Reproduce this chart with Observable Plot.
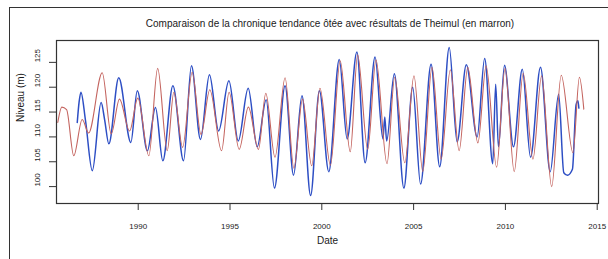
<!DOCTYPE html>
<html><head><meta charset="utf-8">
<script src="https://cdn.jsdelivr.net/npm/d3@7"></script>
<script src="https://cdn.jsdelivr.net/npm/@observablehq/plot@0.6"></script>
<style>
html,body{margin:0;padding:0;background:#fff;}
#wrap{position:relative;width:608px;height:259px;overflow:hidden;font-family:"Liberation Sans",Arial,sans-serif;}
#border{position:absolute;left:9px;top:7px;width:700px;height:400px;border:1.5px solid #333;box-sizing:border-box;}
#title{position:absolute;top:18px;left:56px;width:548px;text-align:center;font-size:10px;line-height:12px;color:#1a1a1a;}
#chart{position:absolute;left:0;top:0;}
</style></head><body>
<div id="wrap"><div id="border"></div><div id="title"></div><div id="chart"></div></div>
<script>
const titleText = "Comparaison de la chronique tendance ôtée avec résultats de Theimul (en marron)";
const xLabel = "Date";
const yLabel = "Niveau (m)";
const xTicks = [1990, 1995, 2000, 2005, 2010, 2015];
const yTicks = [100, 105, 110, 115, 120, 125];

const blueYears = [1986.68,1986.78,1986.88,1987.13,1987.5,1987.98,1988.17,1988.4,1988.94,1989.6,1989.95,1990.5,1990.94,1991.34,1991.89,1992.47,1992.9,1993.39,1993.88,1994.38,1994.94,1995.45,1995.99,1996.48,1996.97,1997.42,1998.0,1998.46,1998.92,1999.39,1999.87,2000.38,2000.95,2001.38,2001.91,2002.36,2002.9,2003.33,2003.43,2003.53,2003.95,2004.47,2004.95,2005.38,2005.95,2006.42,2006.94,2007.37,2007.87,2008.46,2008.87,2009.31,2009.47,2009.62,2009.95,2010.44,2010.92,2011.37,2011.91,2012.44,2012.9,2013.18,2013.38,2013.65,2013.85,2013.95,2014.0];
const blueLevels = [112.9,117.0,119.0,113.3,103.2,116.9,113.5,108.6,121.9,108.9,119.3,107.2,115.9,105.2,120.3,105.2,124.3,109.5,122.5,111.2,121.3,109.2,119.8,108.0,117.5,99.7,120.3,102.3,118.3,98.2,119.3,103.0,125.6,109.6,127.1,104.8,126.1,109.6,114.0,109.2,122.7,99.7,120.0,100.5,124.6,104.0,128.0,109.0,124.5,110.0,125.8,104.6,120.6,108.0,124.4,108.0,123.6,105.9,124.0,103.0,118.6,102.8,102.3,103.5,116.5,117.3,115.8];

// Theimul model (brown/red) series
const redYears = [1985.62,1985.84,1986.1,1986.49,1986.95,1987.3,1988.04,1988.53,1988.98,1989.53,1989.98,1990.58,1991.06,1991.58,1991.94,1992.42,1992.94,1993.42,1993.9,1994.54,1994.95,1995.5,1996.0,1996.55,1996.95,1997.45,1998.0,1998.48,1998.95,1999.45,1999.9,2000.47,2001.0,2001.55,2001.95,2002.5,2002.95,2003.55,2003.97,2004.52,2005.02,2005.5,2006.0,2006.5,2007.0,2007.48,2007.95,2008.5,2008.95,2009.52,2009.98,2010.48,2010.97,2011.5,2011.97,2012.52,2013.04,2013.68,2014.03,2014.27];
const redLevels = [112.9,116.0,115.5,106.2,113.5,110.8,122.9,110.6,117.6,111.2,117.8,106.2,123.8,107.2,119.0,107.9,123.0,110.5,119.5,107.2,119.0,107.5,116.0,107.5,118.8,105.9,121.9,103.7,117.6,104.2,119.8,104.3,125.3,107.0,126.5,107.5,125.5,104.6,122.0,104.8,122.3,103.0,124.0,105.5,123.5,107.2,124.0,108.8,124.3,103.9,123.8,103.0,122.8,105.5,122.3,100.0,122.4,106.8,122.0,115.6];

document.getElementById("title").textContent = titleText;

const blue = blueYears.map((t, i) => ({year: t, level: blueLevels[i]}));
const red = redYears.map((t, i) => ({year: t, level: redLevels[i]}));

const font = '"Liberation Sans", Arial, sans-serif';
const chart = Plot.plot({
  width: 608, height: 259,
  marginLeft: 56, marginRight: 10, marginTop: 40, marginBottom: 56,
  x: {domain: [1985.55, 2015.07]},
  y: {domain: [96.6, 129.4]},
  style: {fontFamily: font, fontSize: "8px", background: "transparent", color: "#1a1a1a"},
  marks: [
    Plot.line(blue, {x: "year", y: "level", stroke: "#2d4ec4", strokeWidth: 1.5, curve: "monotone-x"}),
    Plot.line(red, {x: "year", y: "level", stroke: "#c4645f", strokeWidth: 1.1, curve: "monotone-x"}),
    Plot.frame({stroke: "#333", strokeWidth: 1.2}),
    Plot.axisX(xTicks, {tickSize: 7, tickPadding: 13, tickFormat: d => String(d), label: null, stroke: "#333", fontSize: 8}),
    Plot.axisY(yTicks, {tickSize: 7, tickFormat: () => "", label: null, stroke: "#333"}),
    Plot.text(yTicks, {y: d => d, frameAnchor: "left", dx: -19.5, rotate: -90, text: d => String(d), fontSize: 8, fill: "#1a1a1a"}),
    Plot.text([xLabel], {frameAnchor: "bottom", dy: 40, text: d => d, fontSize: 10, fill: "#1a1a1a"}),
    Plot.text([yLabel], {frameAnchor: "left", dx: -36, rotate: -90, text: d => d, fontSize: 10, fill: "#1a1a1a"})
  ]
});
document.getElementById("chart").appendChild(chart);
</script>
</body></html>
